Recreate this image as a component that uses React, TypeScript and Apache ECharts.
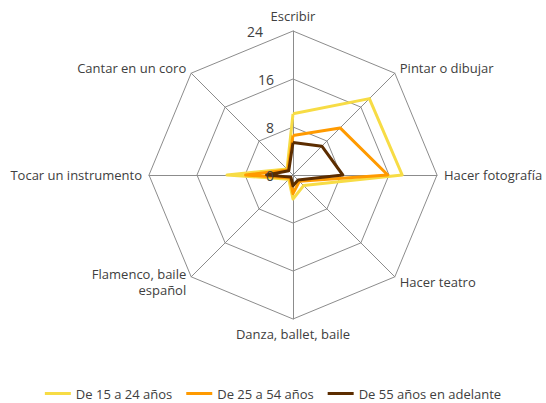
import React, { useEffect, useRef } from "react";
import * as echarts from "echarts";

const categories = [
  "Escribir",
  "Pintar o dibujar",
  "Hacer fotografía",
  "Hacer teatro",
  "Danza, ballet, baile",
  "Flamenco, baile\nespañol",
  "Tocar un instrumento",
  "Cantar en un coro",
];
const seriesNames = ["De 15 a 24 años", "De 25 a 54 años", "De 55 años en adelante"];
const young = [10.2, 18, 18.2, 2.5, 4, 1, 11, 1.4];
const middle = [6.6, 11.1, 15.8, 1.5, 3.1, 0.7, 7.9, 1.2];
const older = [5.4, 6.8, 8.3, 1.2, 1.8, 0.5, 4.4, 1.0];
const colors = ["#F7DC45", "#FF9A00", "#5C2D00"];
const maxValue = 24;

// ECharts lays indicators counter-clockwise from the top; the chart runs clockwise.
const order = [0, 7, 6, 5, 4, 3, 2, 1];
const reorder = (arr: any[]) => order.map((i) => arr[i]);

export default function App() {
  const ref = useRef<HTMLDivElement>(null);
  useEffect(() => {
    const chart = echarts.init(ref.current!, null, { renderer: "svg" });
    const font = "'Open Sans', sans-serif";
    const base = {
      center: [293, 175],
      radius: 144,
      shape: "polygon",
      splitNumber: 3,
      splitArea: { show: false },
      axisTick: { show: false },
    };
    chart.setOption({
      animation: false,
      textStyle: { fontFamily: font },
      legend: {
        bottom: -2,
        left: "center",
        icon: "rect",
        itemWidth: 26,
        itemHeight: 3,
        itemGap: 14,
        textStyle: { color: "#404040", fontSize: 13, fontFamily: font },
        data: seriesNames,
      },
      radar: [
        {
          ...base,
          z: 1,
          axisName: { color: "#404040", fontSize: 13, fontFamily: font, lineHeight: 16 },
          nameGap: 7,
          splitLine: { lineStyle: { color: "#8c8c8c", width: 1 } },
          axisLine: { lineStyle: { color: "#8c8c8c", width: 1 } },
          axisLabel: { show: false },
          indicator: reorder(categories).map((name: string) => ({ name, min: 0, max: maxValue })),
        },
        {
          ...base,
          z: 10,
          axisName: { show: false },
          splitLine: { show: false },
          axisLine: { show: false },
          axisLabel: {
            show: true,
            color: "#404040",
            fontSize: 14,
            fontFamily: font,
            margin: 19,
            formatter: (v: number) => (v === maxValue ? `{top|${v}}` : `${v}`),
            rich: { top: { fontSize: 14, fontFamily: font, color: "#404040", padding: [0, 11, 0, 0] } },
          },
          indicator: reorder(categories).map((name: string, i: number) => ({
            name,
            min: 0,
            max: maxValue,
            ...(i === 0 ? {} : { axisLabel: { show: false } }),
          })),
        },
      ],
      series: [
        {
          type: "radar",
          radarIndex: 0,
          z: 2,
          symbol: "none",
          data: [young, middle, older].map((v, i) => ({
            name: seriesNames[i],
            value: reorder(v),
            lineStyle: { color: colors[i], width: 3 },
            itemStyle: { color: colors[i] },
          })),
        },
      ],
    });
    return () => chart.dispose();
  }, []);
  return (
    <div
      ref={ref}
      style={{ position: "fixed", left: 0, top: 0, width: 546, height: 403, background: "#fff" }}
    />
  );
}
